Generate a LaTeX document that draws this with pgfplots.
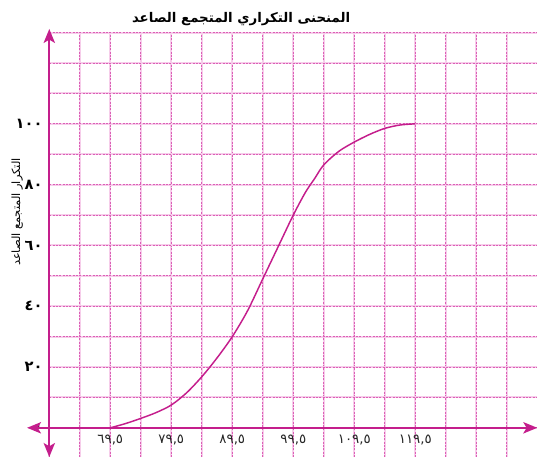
\documentclass[border=0pt]{standalone}
\usepackage{pgfplots}
\pgfplotsset{compat=1.18}
\usepackage{fontspec}
\usetikzlibrary{arrows.meta}
\newfontfamily\arabicfont[Script=Arabic]{DejaVu Sans}
\TeXXeTstate=1
\definecolor{mag}{RGB}{196,30,140}
\definecolor{gridpink}{RGB}{246,205,234}
\definecolor{griddash}{RGB}{220,95,182}
\begin{document}
\begin{tikzpicture}
\useasboundingbox (-36.975pt,0pt) rectangle (365.775pt,342.75pt);
\begin{axis}[
  x=4.575pt, y=2.28pt,
  xmin=59.5, xmax=139.5, ymin=-9.6, ymax=130,
  axis lines=left,
  axis line style={draw=none,-},
  clip=false,
  xtick={69.5,79.5,89.5,99.5,109.5,119.5},
  xticklabels={{٦٩,٥},{٧٩,٥},{٨٩,٥},{٩٩,٥},{١٠٩,٥},{١١٩,٥}},
  minor xtick={59.5,64.5,74.5,84.5,94.5,104.5,114.5,124.5,129.5,134.5},
  ytick={0,20,40,60,80,100},
  yticklabels={٠,٢٠,٤٠,٦٠,٨٠,١٠٠},
  minor ytick={10,30,50,70,90,110,120,130},
  grid=both,
  major tick length=0pt, minor tick length=0pt,
  major grid style={griddash, line width=0.5pt, dash pattern=on 1.5pt off 1pt,
    preaction={draw=gridpink, line width=1.6pt, solid}},
  minor grid style={griddash, line width=0.5pt, dash pattern=on 1.5pt off 1pt,
    preaction={draw=gridpink, line width=1.6pt, solid}},
  xticklabel style={font=\arabicfont\fontsize{10}{12}\selectfont, anchor=center, yshift=12.75pt, text=black!85},
  yticklabel style={font=\arabicfont\bfseries\fontsize{11}{13}\selectfont, anchor=east, xshift=-1.5pt, text=black},
  title={\arabicfont\bfseries\fontsize{10}{12}\selectfont\beginR المنحنى التكراري المتجمع الصاعد\endR},
  title style={at={(rel axis cs:0.393,1)}, anchor=center, yshift=4pt},
  ylabel={\arabicfont\fontsize{8.5}{10}\selectfont\beginR التكرار المتجمع الصاعد\endR},
  ylabel style={at={(axis description cs:-0.066,0.577)}, anchor=center},
]
\addplot[mag, line width=1.1pt, smooth] coordinates {
(69.5,0) (72,1.4) (74.5,3.1) (77,5) (79.5,7.5) (82,11.5) (84.5,16.8) (87,23)
(89.5,30) (92,38.5) (94.5,49) (97,59.5) (99.5,70) (101.5,77.5) (103,82)
(104.5,86.5) (107,91) (109.5,94) (112,96.5) (114.5,98.5) (117,99.6) (119.5,100)
};
\draw[mag, line width=1.5pt, {Stealth[length=10.5pt,width=8.5pt,inset=2.5pt]}-{Stealth[length=10.5pt,width=8.5pt,inset=2.5pt]}]
  (axis cs:55.85,0) -- (axis cs:139.5,0);
\draw[mag, line width=1.5pt, {Stealth[length=10.5pt,width=8.5pt,inset=2.5pt]}-{Stealth[length=10.5pt,width=8.5pt,inset=2.5pt]}]
  (axis cs:59.5,-9.6) -- (axis cs:59.5,131.2);
\end{axis}
\end{tikzpicture}
\end{document}
